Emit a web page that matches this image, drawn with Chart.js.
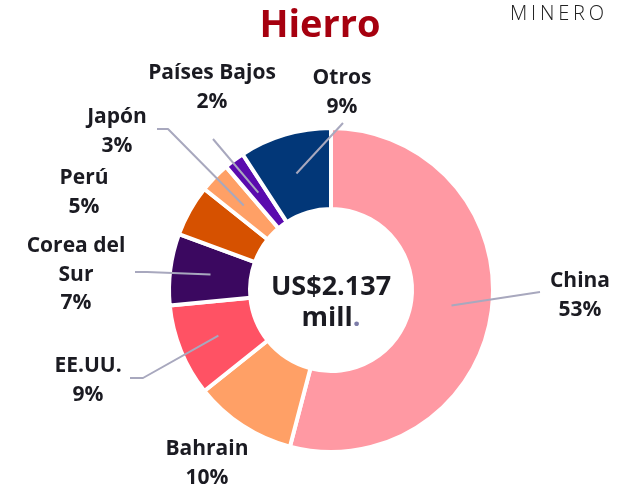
<!DOCTYPE html>
<html lang="es">
<head>
<meta charset="utf-8">
<title>Hierro</title>
<script src="https://cdn.jsdelivr.net/npm/chart.js@4.4.1/dist/chart.umd.min.js"></script>
<style>
    html, body { margin: 0; padding: 0; background: #ffffff; }
    #wrap { position: relative; width: 626px; height: 491px; }
    canvas { display: block; }
</style>
</head>
<body>
<div id="wrap">
    <canvas id="hierroChart" width="626" height="491"></canvas>
</div>
<script>
// Destinos de las exportaciones de hierro (% del total)
const paises = ['China', 'Bahrain', 'EE.UU.', 'Corea del Sur', 'Perú', 'Japón', 'Países Bajos', 'Otros'];
const porcentajes = [53, 10, 9, 7, 5, 3, 2, 9];
const etiquetas = [
    ['China', '53%'],
    ['Bahrain', '10%'],
    ['EE.UU.', '9%'],
    ['Corea del', 'Sur', '7%'],
    ['Perú', '5%'],
    ['Japón', '3%'],
    ['Países Bajos', '2%'],
    ['Otros', '9%']
];
const totalTexto = ['US$2.137', 'mill'];

const colores = ['#ff99a3', '#ffa066', '#ff5264', '#3b0860', '#d65100', '#ffa066', '#5a0bae', '#023778'];

// posición de cada etiqueta: x centrada, línea base de la primera línea,
// y el recorrido de la línea guía (codo opcional y extremo)
const posEtiquetas = [
    { x: 580, y: 287, guia: [[540, 292]] },
    { x: 207, y: 455, guia: null },
    { x: 88,  y: 372, guia: [[143, 378], [130, 378]] },
    { x: 76,  y: 252, guia: [[147, 272], [135, 272]] },
    { x: 84,  y: 184, guia: null },
    { x: 117, y: 123, guia: [[168, 129], [157, 129]] },
    { x: 212, y: 79,  guia: [[213, 139]] },
    { x: 342, y: 84,  guia: [[343, 123]] }
];

const FUENTE = '"Open Sans", "Noto Sans", sans-serif';

// Dibuja líneas guía, etiquetas, título y el total central
const etiquetasPlugin = {
    id: 'etiquetasHierro',
    afterDatasetsDraw(chart) {
        const ctx = chart.ctx;
        const arcs = chart.getDatasetMeta(0).data;

        // líneas guía desde el centro del anillo
        ctx.save();
        ctx.strokeStyle = '#a8a8be';
        ctx.lineWidth = 2;
        ctx.lineJoin = 'round';
        arcs.forEach((arc, i) => {
            const p = posEtiquetas[i];
            if (!p.guia) return;
            const a = (arc.startAngle + arc.endAngle) / 2;
            const r = (arc.innerRadius + arc.outerRadius) / 2;
            ctx.beginPath();
            ctx.moveTo(arc.x + Math.cos(a) * r, arc.y + Math.sin(a) * r);
            p.guia.forEach(pt => ctx.lineTo(pt[0], pt[1]));
            ctx.stroke();
        });
        ctx.restore();

        // etiquetas
        ctx.save();
        ctx.fillStyle = '#1b1b22';
        ctx.font = 'bold 21px ' + FUENTE;
        ctx.textAlign = 'center';
        ctx.textBaseline = 'alphabetic';
        etiquetas.forEach((lineas, i) => {
            const p = posEtiquetas[i];
            lineas.forEach((t, j) => ctx.fillText(t, p.x, p.y + j * 28.5));
        });
        ctx.restore();

        // total en el centro
        const cx = arcs[0].x;
        ctx.save();
        ctx.fillStyle = '#1b1b22';
        ctx.font = 'bold 27px ' + FUENTE;
        ctx.textAlign = 'center';
        ctx.fillText(totalTexto[0], cx, 295);
        const w = ctx.measureText(totalTexto[1]).width;
        const wp = ctx.measureText('.').width;
        ctx.textAlign = 'left';
        const x0 = cx - (w + wp) / 2;
        ctx.fillText(totalTexto[1], x0, 326);
        ctx.fillStyle = '#7c7ca8';
        ctx.fillText('.', x0 + w, 326);
        ctx.restore();

        // título y marca
        ctx.save();
        ctx.fillStyle = '#a6000f';
        ctx.font = 'bold 38px ' + FUENTE;
        ctx.textAlign = 'center';
        ctx.fillText('Hierro', 320, 37);
        ctx.fillStyle = '#222222';
        ctx.font = '300 20px ' + FUENTE;
        ctx.textAlign = 'left';
        ctx.letterSpacing = '3.8px';
        ctx.fillText('MINERO', 510, 20);
        ctx.restore();
    }
};

new Chart(document.getElementById('hierroChart'), {
    type: 'doughnut',
    data: {
        labels: paises,
        datasets: [{
            data: porcentajes,
            backgroundColor: colores,
            borderColor: '#ffffff',
            borderWidth: 4
        }]
    },
    options: {
        responsive: false,
        animation: false,
        cutout: '50%',
        layout: {
            padding: { left: 167, right: 131, top: 126, bottom: 37 }
        },
        plugins: {
            legend: { display: false },
            tooltip: { enabled: false },
            title: { display: false }
        }
    },
    plugins: [etiquetasPlugin]
});
</script>
</body>
</html>
